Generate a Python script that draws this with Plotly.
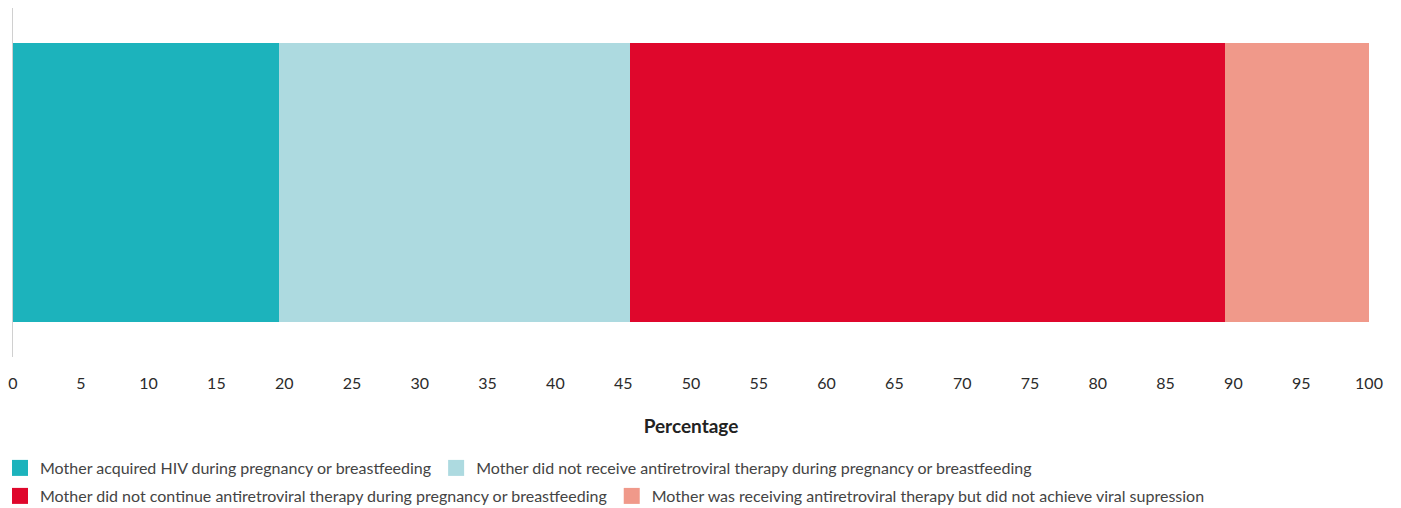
import plotly.graph_objects as go

categories = ["All"]
series_names = [
    "Mother acquired HIV during pregnancy or breastfeeding",
    "Mother did not receive antiretroviral therapy during pregnancy or breastfeeding",
    "Mother did not continue antiretroviral therapy during pregnancy or breastfeeding",
    "Mother was receiving antiretroviral therapy but did not achieve viral supression",
]
series_values = [19.6, 25.9, 43.9, 10.6]
colors = ["#1CB3BC", "#ADDAE0", "#DF072C", "#F0998A"]
legend_groups = ["legend", "legend", "legend2", "legend2"]
tick_vals = list(range(0, 101, 5))

W, H = 1401, 508
ML, MR, MT, MB = 5, 40, 0, 159
plot_w = W - ML - MR
plot_h = H - MT - MB

fig = go.Figure()
for name, val, col, lg in zip(series_names, series_values, colors, legend_groups):
    fig.add_trace(go.Bar(
        x=[val], y=categories, orientation="h", name=name,
        marker=dict(color=col, line=dict(width=0)),
        showlegend=False, hoverinfo="x+name",
    ))
    fig.add_trace(go.Scatter(
        x=[None], y=[None], mode="markers", name=name, legend=lg,
        marker=dict(symbol="square", size=16, color=col, line=dict(width=0)),
        showlegend=True,
    ))

legend_common = dict(
    orientation="h", xref="paper", yref="paper",
    x=-13 / plot_w, xanchor="left", yanchor="middle",
    font=dict(size=16, color="#444444"), itemsizing="trace",
    traceorder="normal", bgcolor="rgba(0,0,0,0)",
)

fig.update_layout(
    width=W, height=H,
    barmode="stack", bargap=0.2,
    paper_bgcolor="white", plot_bgcolor="white",
    margin=dict(l=ML, r=MR, t=MT, b=MB, autoexpand=False),
    font=dict(family="Lato, 'Open Sans', sans-serif", color="#333333"),
    xaxis=dict(
        range=[0, 100], tickvals=tick_vals, showgrid=False, zeroline=False,
        showline=False, ticks="outside", ticklen=12, tickcolor="rgba(0,0,0,0)",
        tickfont=dict(size=16, color="#2b2b2b"),
        title=dict(text="<b>Percentage</b>", font=dict(size=19, color="#222222"), standoff=28),
        fixedrange=True,
    ),
    yaxis=dict(
        showticklabels=False, showgrid=False, zeroline=False,
        showline=True, linecolor="#d0d0d0", linewidth=1, fixedrange=True,
    ),
    legend=dict(legend_common, y=1 - (460 - MT) / plot_h),
    legend2=dict(legend_common, y=1 - (488 - MT) / plot_h),
)

fig.write_html("out.html")
